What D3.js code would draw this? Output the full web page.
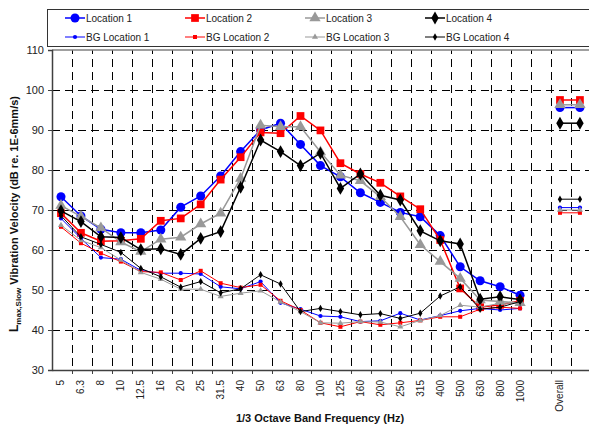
<!DOCTYPE html>
<html>
<head>
<meta charset="utf-8">
<script src="https://cdn.jsdelivr.net/npm/d3@7"></script>
<style>
  body { margin: 0; background: #fff; }
  text { font-family: "Liberation Sans", Arial, sans-serif; }
</style>
</head>
<body>
<div id="chart"></div>
<script>
// 1/3 octave band centre frequencies (Hz)
const freqLabels = ["5", "6.3", "8", "10", "12.5", "16", "20", "25", "31.5", "40", "50", "63",
  "80", "100", "125", "160", "200", "250", "315", "400", "500", "630", "800", "1000"];
const overallLabel = "Overall";
const yTicks = [30, 40, 50, 60, 70, 80, 90, 100, 110];

const location1 = [73.3, 68.5, 65.2, 64.3, 64.3, 65.0, 70.7, 73.5, 78.5, 84.6, 90.0, 91.7,
  86.4, 81.1, 78.3, 74.3, 71.9, 69.4, 68.3, 63.6, 55.8, 52.3, 50.8, 48.7];
const location2 = [69.2, 64.3, 62.2, 62.3, 62.8, 67.3, 67.9, 71.4, 77.6, 83.2, 89.4, 89.2,
  93.5, 89.9, 81.7, 79.0, 76.8, 73.4, 70.2, 62.5, 50.4, 45.7, 46.3, 47.3];
const location3 = [71.1, 68.4, 65.5, 62.0, 59.6, 62.7, 63.2, 66.5, 69.2, 77.9, 91.2, 90.8,
  90.8, 84.5, 78.7, 77.3, 73.3, 68.3, 61.3, 57.1, 52.9, 47.5, 47.1, 46.8];
const location4 = [69.8, 67.1, 63.3, 63.1, 60.1, 60.3, 58.9, 62.9, 64.6, 75.7, 87.5, 84.6,
  81.1, 84.2, 75.4, 79.0, 73.7, 72.5, 64.8, 62.3, 61.5, 47.7, 48.3, 47.6];
const bgLocation1 = [67.9, 62.9, 58.1, 57.7, 54.9, 54.2, 54.2, 54.0, 50.8, 50.3, 52.1, 46.8,
  45.2, 43.5, 43.3, 42.1, 42.3, 44.2, 42.5, 43.6, 44.8, 45.4, 45.0, 45.4];
const bgLocation2 = [65.8, 61.7, 59.2, 57.1, 54.6, 54.4, 52.5, 54.8, 51.7, 50.6, 51.3, 47.3,
  45.0, 41.8, 40.8, 42.1, 41.3, 41.8, 42.4, 43.3, 43.3, 45.2, 45.7, 45.4];
const bgLocation3 = [66.2, 62.4, 60.6, 57.5, 54.4, 52.7, 50.2, 50.2, 48.4, 49.2, 49.8, 47.0,
  44.6, 41.8, 41.7, 42.1, 42.0, 40.8, 42.4, 43.6, 46.2, 45.7, 46.7, 46.7];
const bgLocation4 = [68.6, 63.3, 61.4, 59.4, 55.4, 53.3, 50.7, 52.1, 49.3, 50.3, 53.8, 51.5,
  44.6, 45.4, 44.6, 43.8, 44.1, 42.9, 44.2, 48.5, 50.8, 45.2, 45.7, 47.1];
// overall levels, drawn as a short flat segment
const overall = [95.6, 97.5, 96.3, 91.7, 70.6, 69.3, 70.0, 72.7];

const seriesNames = ["Location 1", "Location 2", "Location 3", "Location 4",
  "BG Location 1", "BG Location 2", "BG Location 3", "BG Location 4"];
const seriesValues = [location1, location2, location3, location4,
  bgLocation1, bgLocation2, bgLocation3, bgLocation4];

const colors = ["#0000ff", "#ff0000", "#999999", "#000000"];
const symbols = [d3.symbolCircle, d3.symbolSquare, d3.symbolTriangle, d3.symbolDiamond];
const bigSizes = [64, 60, 55, 48];
const smallSizes = [14, 16, 16, 16];

const width = 589;
const height = 428;
const margin = { top: 50, left: 52, bottom: 58 };

const svg = d3.select("#chart").append("svg")
  .attr("width", width)
  .attr("height", height);

// band per category; a blank one before and after "Overall"
const cats = freqLabels.concat([" ", overallLabel, "  "]);

const x = d3.scaleBand()
  .domain(cats)
  .range([margin.left, margin.left + cats.length * 19.96])
  .padding(0);

const y = d3.scaleLinear()
  .domain([30, 110])
  .range([height - margin.bottom, margin.top]);

const cx = (c) => x(c) + x.bandwidth() / 2 - 1;
const plotRight = x.range()[1];

// grid
const grid = svg.append("g");
grid.selectAll(".hgrid")
  .data(yTicks.filter((t) => t > 30 && t < 110))
  .join("line")
  .attr("x1", margin.left)
  .attr("x2", plotRight)
  .attr("y1", (d) => Math.round(y(d)) + 0.5)
  .attr("y2", (d) => Math.round(y(d)) + 0.5)
  .attr("stroke", "#000")
  .attr("stroke-dasharray", "8,5");

grid.selectAll(".vgrid")
  .data(cats.slice(1))
  .join("line")
  .attr("x1", (d) => Math.round(x(d)) + 0.5)
  .attr("x2", (d) => Math.round(x(d)) + 0.5)
  .attr("y1", y(110))
  .attr("y2", y(30))
  .attr("stroke", "#000")
  .attr("stroke-dasharray", "8,5")
  .attr("stroke-dashoffset", 4);

// top border of plot area
svg.append("line")
  .attr("x1", margin.left).attr("x2", plotRight)
  .attr("y1", y(110)).attr("y2", y(110))
  .attr("stroke", "#808080")
  .attr("stroke-width", 1.5);

// axes
const xAxis = svg.append("g")
  .attr("transform", "translate(0," + y(30) + ")")
  .call(d3.axisBottom(x).tickSize(0).tickFormat(""));
xAxis.select(".domain").attr("stroke", "#404040").attr("stroke-width", 1.5);

svg.append("g")
  .selectAll("line")
  .data(cats.slice(1))
  .join("line")
  .attr("x1", (d) => Math.round(x(d)) + 0.5)
  .attr("x2", (d) => Math.round(x(d)) + 0.5)
  .attr("y1", y(30))
  .attr("y2", y(30) + 4)
  .attr("stroke", "#404040");

svg.append("g")
  .selectAll("text")
  .data(cats.filter((c) => c.trim() !== ""))
  .join("text")
  .attr("transform", (d) => "translate(" + cx(d) + "," + (y(30) + 10) + ") rotate(-90)")
  .attr("dy", "0.35em")
  .attr("text-anchor", "end")
  .style("font-size", "10px")
  .attr("fill", "#222")
  .text((d) => d);

const yAxis = svg.append("g")
  .attr("transform", "translate(" + margin.left + ",0)")
  .call(d3.axisLeft(y).tickValues(yTicks).tickSize(4).tickPadding(4));
yAxis.select(".domain").attr("stroke", "#404040").attr("stroke-width", 1.5);
yAxis.selectAll(".tick line").attr("stroke", "#404040");
yAxis.selectAll(".tick text")
  .style("font-size", "11px")
  .style("font-family", "Liberation Sans, Arial, sans-serif")
  .attr("fill", "#222");

// axis titles
svg.append("text")
  .attr("x", 320)
  .attr("y", 422)
  .attr("text-anchor", "middle")
  .style("font-size", "11px")
  .style("font-weight", "bold")
  .attr("fill", "#111")
  .text("1/3 Octave Band Frequency (Hz)");

const yTitle = svg.append("text")
  .attr("transform", "translate(18,214) rotate(-90)")
  .attr("text-anchor", "middle")
  .style("font-size", "11px")
  .style("font-weight", "bold")
  .attr("fill", "#111");
yTitle.append("tspan").style("font-size", "12px").text("L");
yTitle.append("tspan").attr("dy", 3).style("font-size", "8px").text("max,Slow");
yTitle.append("tspan").attr("dy", -3).text(" Vibration Velocity (dB re. 1E-6mm/s)");

// series
const line = d3.line()
  .x((d) => cx(d.cat))
  .y((d) => y(d.value));

seriesValues.forEach((vals, i) => {
  const big = i < 4;
  const color = colors[i % 4];
  const pts = vals.map((v, j) => ({ cat: freqLabels[j], value: v }));
  const tot = [overallLabel, "  "].map((c) => ({ cat: c, value: overall[i] }));
  const size = big ? bigSizes[i % 4] : smallSizes[i % 4];
  const g = svg.append("g");

  [pts, tot].forEach((p) => {
    g.append("path")
      .datum(p)
      .attr("fill", "none")
      .attr("stroke", color)
      .attr("stroke-width", big ? 1.5 : 1)
      .attr("d", line);

    g.selectAll(null)
      .data(p)
      .join("path")
      .attr("transform", (d) => "translate(" + cx(d.cat) + "," + y(d.value) + ")")
      .attr("d", d3.symbol().type(symbols[i % 4]).size(size))
      .attr("fill", color);
  });
});

// legend
const legend = svg.append("g");
legend.append("rect")
  .attr("x", 47.5)
  .attr("y", 9.5)
  .attr("width", 560)
  .attr("height", 37)
  .attr("fill", "#fff")
  .attr("stroke", "#333");

seriesNames.forEach((name, i) => {
  const big = i < 4;
  const lx = 65 + (i % 4) * 120;
  const ly = big ? 18 : 37;
  const color = colors[i % 4];
  const size = big ? bigSizes[i % 4] : smallSizes[i % 4];
  legend.append("line")
    .attr("x1", lx).attr("x2", lx + 20)
    .attr("y1", ly).attr("y2", ly)
    .attr("stroke", color)
    .attr("stroke-width", big ? 1.5 : 1);
  legend.append("path")
    .attr("transform", "translate(" + (lx + 10) + "," + ly + ")")
    .attr("d", d3.symbol().type(symbols[i % 4]).size(size))
    .attr("fill", color);
  legend.append("text")
    .attr("x", lx + 21)
    .attr("y", ly)
    .attr("dy", "0.35em")
    .style("font-size", "10px")
    .attr("fill", "#222")
    .text(name);
});
</script>
</body>
</html>
